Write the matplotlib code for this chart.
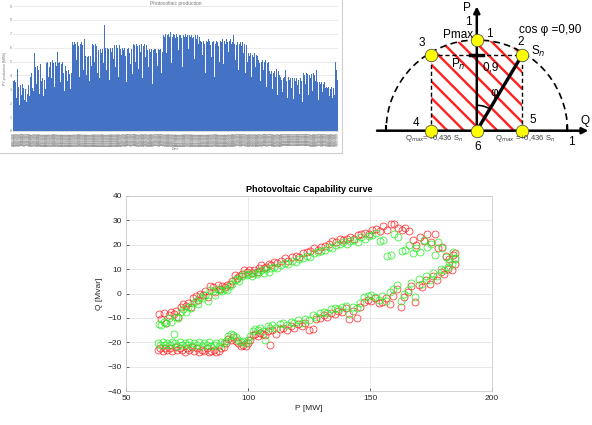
"""
Composite figure: daily PV production (top left), capability diagram (top right)
and the measured P-Q capability scatter (bottom).
"""

import datetime

import numpy as np
import matplotlib
matplotlib.use("Agg")
import matplotlib.pyplot as plt
from matplotlib.patches import Arc, PathPatch
from matplotlib.path import Path
from matplotlib.lines import Line2D

plt.rcParams["font.family"] = ["Liberation Sans", "DejaVu Sans"]
plt.rcParams["hatch.linewidth"] = 1.7

# ---- daily production (one bar per day of the year) ----
PV_DAILY = [
    3.6, 3.7, 3.5, 2.4, 3.8, 4.5, 3.2, 1.9, 3.3, 2.6, 3.4, 3.1, 2.2, 2.8, 3.0, 2.1, 2.7, 3.3, 2.5, 3.9,
    4.2, 3.1, 4.0, 2.9, 5.6, 4.6, 3.4, 4.7, 4.4, 2.7, 4.8, 4.5, 3.6, 3.8, 2.5, 3.7, 3.0, 4.9, 5.0, 3.9,
    4.6, 6.0, 5.0, 3.8, 5.1, 4.9, 3.2, 5.0, 4.7, 5.7, 4.1, 4.9, 5.0, 3.5, 4.8, 5.0, 4.2, 2.9, 4.7, 4.4,
    4.3, 3.6, 4.4, 4.1, 3.0, 4.2, 6.4, 6.2, 4.8, 6.4, 6.3, 5.1, 6.4, 6.1, 3.9, 6.3, 6.4, 5.6, 6.2, 4.4,
    6.6, 5.4, 4.0, 5.3, 5.4, 3.6, 5.2, 5.4, 4.7, 6.3, 6.2, 5.0, 6.3, 6.1, 4.2, 5.9, 5.8, 3.8, 5.9, 5.6,
    5.9, 4.9, 7.6, 6.0, 5.8, 4.4, 6.0, 5.9, 3.7, 6.0, 5.7, 6.0, 5.2, 6.2, 6.1, 4.6, 6.2, 6.0, 3.9, 6.2,
    5.9, 5.5, 6.0, 4.3, 5.8, 6.0, 5.4, 3.5, 5.9, 6.0, 5.6, 4.8, 6.0, 5.9, 4.1, 6.3, 6.2, 5.0, 6.3, 6.1,
    4.5, 6.3, 6.2, 5.7, 6.3, 3.8, 6.1, 6.3, 5.3, 6.2, 5.9, 5.8, 4.6, 5.9, 5.7, 5.9, 3.4, 5.8, 5.9, 5.2,
    5.9, 5.6, 4.7, 5.9, 5.8, 5.9, 4.2, 5.7, 7.0, 6.9, 6.8, 7.0, 5.6, 6.9, 7.0, 6.8, 7.1, 6.9, 4.9, 6.8,
    7.0, 6.9, 6.7, 7.0, 6.8, 5.8, 6.9, 7.0, 6.9, 6.7, 4.6, 6.9, 6.8, 7.0, 6.8, 6.9, 6.7, 5.9, 6.9, 6.8,
    6.9, 6.7, 6.8, 5.2, 6.9, 6.8, 6.6, 6.9, 6.3, 6.8, 6.5, 6.4, 5.5, 6.5, 6.6, 6.3, 4.2, 6.5, 6.4, 6.6,
    6.5, 6.2, 5.3, 6.5, 6.4, 6.5, 3.9, 6.3, 6.5, 6.4, 6.1, 5.0, 6.6, 6.5, 6.4, 6.6, 4.8, 6.5, 6.3, 6.6,
    6.4, 6.6, 5.7, 6.5, 6.6, 6.3, 6.4, 6.9, 6.3, 5.1, 6.4, 6.2, 6.4, 4.4, 6.3, 6.4, 6.1, 6.4, 5.6, 6.3,
    6.4, 4.2, 6.2, 5.0, 5.6, 5.4, 5.6, 3.9, 5.5, 5.6, 5.3, 5.6, 4.6, 5.5, 5.4, 5.1, 4.9, 3.6, 5.1, 5.0,
    5.1, 4.4, 5.0, 5.1, 3.2, 4.9, 5.0, 4.7, 4.3, 4.1, 4.3, 3.0, 4.2, 4.3, 3.9, 4.5, 4.1, 2.6, 4.3, 4.0,
    3.9, 3.7, 2.8, 3.8, 3.9, 3.5, 4.4, 3.6, 2.4, 3.9, 3.7, 3.8, 3.1, 3.8, 3.7, 2.3, 3.8, 3.6, 3.8, 3.3,
    3.7, 2.7, 3.8, 3.5, 3.6, 2.1, 4.2, 4.0, 3.4, 4.2, 4.1, 2.6, 4.0, 4.2, 3.8, 4.1, 2.9, 4.2, 4.0, 3.6,
    4.4, 3.5, 3.3, 2.2, 3.5, 3.4, 3.5, 2.8, 3.4, 3.5, 3.1, 2.0, 3.2, 3.1, 3.2, 2.5, 3.0, 3.2, 2.4, 3.1,
    3.2, 2.6, 5.0, 4.4, 3.7,
]
PV_YTICKS = [0, 1, 2, 3, 4, 5, 6, 7, 8, 9]
START_DAY = datetime.date(2019, 1, 1)

# ---- capability scatter: upper branch ----
P_UP = [
    63.5, 64.5, 65.5, 66.5, 67.5, 68.5, 69.5, 70.5, 71.5, 72.5,
    73.5, 74.5, 75.5, 76.5, 77.5, 78.5, 79.5, 80.5, 81.5, 82.5,
    83.5, 84.5, 85.5, 86.5, 87.5, 88.5, 89.5, 90.5, 91.5, 92.5,
    93.5, 94.5, 95.5, 96.5, 97.5, 98.5, 99.5, 100.5, 101.5, 102.5,
    103.5, 104.5, 105.5, 106.5, 107.5, 108.5, 109.5, 110.5, 112.0, 113.5,
    115.0, 116.5, 118.0, 119.5, 121.0, 122.5, 124.0, 125.5, 127.0, 128.5,
    130.0, 131.5, 133.0, 134.5, 136.0, 137.5, 139.0, 140.5, 142.0, 143.5,
    145.0, 146.5, 148.0, 149.5, 151.0, 152.5, 154.0, 155.5, 157.0, 158.5,
    160.0, 161.5, 163.0, 164.5, 166.0, 167.5, 169.0, 170.5, 172.0, 173.5,
    175.0, 176.5, 178.0, 179.5, 181.0, 182.5, 184.0, 185.0,
]
Q_UP_RED = [
    -8.5, -10.5, -8.0, -12.0, -9.0, -7.5, -8.5, -7.0, -9.5, -5.5,
    -4.5, -5.0, -4.0, -5.5, -2.0, -1.0, -2.5, 0.0, -0.5, 1.0,
    -1.5, 3.0, 2.5, 0.5, 3.5, 2.0, 3.0, 2.5, 3.5, 4.0,
    5.0, 7.5, 6.5, 7.0, 8.0, 9.5, 9.0, 9.5, 8.5, 9.5,
    9.0, 10.5, 11.5, 10.5, 11.0, 12.0, 11.5, 13.0, 12.5, 13.5,
    14.5, 13.5, 15.0, 15.5, 15.0, 16.5, 17.0, 17.5, 18.5, 18.0,
    19.0, 19.5, 20.5, 21.5, 21.0, 22.5, 22.0, 22.5, 23.0, 22.5,
    24.0, 24.5, 25.0, 24.5, 26.0, 26.5, 25.5, 27.5, 26.0, 28.5,
    28.5, 27.0, 26.0, 27.0, 25.5, 22.0, 20.0, 23.0, 21.5, 24.5,
    21.0, 24.5, 18.5, 19.0, 15.5, 14.0, 16.0, 16.5,
]
Q_UP_GREEN = [
    -12.5, -13.0, -11.5, -12.0, -10.0, -11.5, -16.5, -9.5, -10.0, -7.5,
    -6.5, -7.5, -5.5, -6.0, -4.0, -3.0, -4.5, -1.5, -2.0, -0.5,
    -3.0, 1.5, 1.0, -0.5, 2.0, 1.5, 1.0, 2.0, 1.5, 3.0,
    4.0, 5.5, 6.0, 5.0, 7.0, 8.0, 7.5, 8.0, 7.0, 8.5,
    8.0, 9.0, 9.5, 8.5, 10.0, 9.0, 10.5, 11.0, 10.5, 11.5,
    12.5, 12.0, 13.5, 13.0, 14.0, 14.5, 15.5, 15.0, 16.5, 17.0,
    17.5, 18.0, 19.0, 18.5, 20.0, 20.5, 21.0, 20.5, 21.5, 22.0,
    21.0, 23.0, 22.5, 23.5, 24.0, 25.0, 21.5, 22.0, 15.5, 16.0,
    24.5, 23.0, 17.5, 18.0, 20.0, 16.5, 18.5, 17.0, 22.0, 19.0,
    20.5, 16.0, 21.0, 18.5, 15.0, 13.0, 17.0, 14.5,
]

# ---- capability scatter: lower branch ----
P_LO = [
    63.0, 64.0, 65.0, 66.0, 67.0, 68.0, 69.0, 70.0, 71.0, 72.0,
    73.0, 74.0, 75.0, 76.0, 77.0, 78.0, 79.0, 80.0, 81.0, 82.0,
    83.0, 84.0, 85.0, 86.0, 87.0, 88.0, 89.0, 90.0, 91.0, 92.0,
    93.0, 94.0, 95.0, 96.0, 97.0, 98.0, 99.0, 100.0, 101.0, 102.0,
    103.0, 104.0, 105.0, 106.0, 107.0, 108.0, 109.0, 110.0, 111.5, 113.0,
    114.5, 116.0, 117.5, 119.0, 120.5, 122.0, 123.5, 125.0, 126.5, 128.0,
    129.5, 131.0, 132.5, 134.0, 135.5, 137.0, 138.5, 140.0, 141.5, 143.0,
    144.5, 146.0, 147.5, 149.0, 150.5, 152.0, 153.5, 155.0, 156.5, 158.0,
    159.5, 161.0, 162.5, 164.0, 165.5, 167.0, 168.5, 170.0, 171.5, 173.0,
    174.5, 176.0, 177.5, 179.0, 180.5, 182.0, 183.5, 185.0,
]
Q_LO_RED = [
    -23.0, -22.5, -23.5, -22.5, -23.0, -22.5, -23.5, -22.0, -23.0, -22.5,
    -23.0, -24.0, -22.5, -23.0, -22.0, -23.5, -22.5, -24.0, -23.0, -23.5,
    -22.5, -24.0, -23.5, -23.0, -24.0, -23.5, -22.5, -22.0, -20.5, -18.5,
    -19.0, -18.0, -19.5, -20.5, -21.5, -21.0, -21.5, -20.5, -19.0, -17.0,
    -16.5, -17.5, -16.0, -16.5, -17.0, -15.5, -21.0, -15.0, -16.5, -14.5,
    -14.0, -15.0, -13.5, -14.0, -12.5, -13.5, -12.0, -15.0, -14.5, -10.5,
    -10.0, -9.0, -9.5, -8.0, -8.5, -7.0, -7.5, -6.0, -10.5, -7.0,
    -10.0, -5.5, -3.5, -2.5, -3.0, -2.0, -4.0, -3.5, -2.0, -4.5,
    -1.0, 2.0, -5.5, -1.5, 0.5, 3.0, -3.5, 3.5, 2.5, 5.5,
    4.0, 7.0, 5.5, 9.0, 8.0, 10.0, 9.5, 12.0,
]
Q_LO_GREEN = [
    -20.5, -21.0, -20.0, -21.0, -20.5, -21.0, -20.0, -20.5, -21.5, -20.0,
    -21.0, -20.5, -21.0, -20.0, -21.5, -20.5, -21.0, -20.0, -21.5, -20.5,
    -21.0, -20.0, -21.5, -21.0, -20.5, -21.5, -20.0, -20.5, -19.5, -17.5,
    -16.5, -17.0, -18.0, -19.0, -20.0, -19.5, -20.5, -19.0, -17.5, -15.5,
    -14.5, -15.0, -14.0, -15.5, -19.0, -13.5, -14.0, -13.0, -14.0, -12.5,
    -12.0, -13.0, -11.5, -12.0, -11.0, -12.0, -10.5, -11.0, -9.0, -9.5,
    -8.0, -7.5, -8.0, -6.5, -6.0, -6.5, -5.5, -5.0, -8.5, -5.5,
    -6.0, -4.0, -1.5, -1.0, -0.5, -1.5, -2.5, -1.0, -3.0, 0.5,
    2.0, 3.5, -3.0, 0.0, 1.5, 4.5, -1.5, 6.0, 4.0, 7.0,
    5.5, 8.5, 7.0, 10.0, 9.5, 11.0, 12.0, 14.0,
]

W, H = 592, 425
fig = plt.figure(figsize=(W / 100, H / 100), dpi=100)


def fig_rect(x0, y0, x1, y1):
    # pixel box (top-left origin) -> figure fraction rect
    return [x0 / W, 1 - y1 / H, (x1 - x0) / W, (y1 - y0) / H]


# ================= top left: daily production bars =================
axb = fig.add_axes(fig_rect(13, 6, 338, 131))
days = np.arange(len(PV_DAILY))
axb.bar(days, PV_DAILY, width=1.0, color="#4472C4", edgecolor="none", zorder=2)
axb.set_xlim(-0.5, len(PV_DAILY) - 0.5)
axb.set_ylim(0, 9)
axb.set_yticks(PV_YTICKS)
axb.set_yticklabels([str(v) for v in PV_YTICKS], fontsize=2.5, color="#777777")
# one date per bar, as in the spreadsheet screenshot (they blur into a grey band)
date_labels = [(START_DAY + datetime.timedelta(days=int(d))).strftime("%d/%m/%Y") for d in days]
axb.set_xticks(days)
axb.set_xticklabels(date_labels, rotation=90, fontsize=1.9, color="#8a8a8a")
axb.tick_params(length=0, pad=1)
axb.grid(axis="y", color="#e3e3e3", lw=0.5, zorder=0)
for s in ["top", "right", "left"]:
    axb.spines[s].set_visible(False)
axb.spines["bottom"].set_color("#cccccc")
axb.spines["bottom"].set_linewidth(0.5)
axb.set_title("Photovoltaic production", fontsize=3.5, color="#777777", pad=1)
axb.set_ylabel("PV production [MWh]", fontsize=2.5, color="#777777", labelpad=2)
axb.set_xlabel("Date", fontsize=2.5, color="#777777", labelpad=1)

# light frame of the screenshot
fig.add_artist(Line2D([342 / W, 342 / W], [1 - 153 / H, 1.0], color="#d0d0d0", lw=0.8))
fig.add_artist(Line2D([0, 342 / W], [1 - 153 / H, 1 - 153 / H], color="#d0d0d0", lw=0.8))

# ================= top right: capability diagram =================
axd = fig.add_axes(fig_rect(355, 0, 592, 160))
axd.set_xlim(355, 592)
axd.set_ylim(0, 160)
axd.axis("off")

OX, OY, R = 476.8, 160 - 130.7, 90.7


def pt(q, p):
    return OX + q * R, OY + p * R


def tx(x, y):
    return x, 160 - y


# hatched operating region: rectangle |Q| <= 0.5 cut by the circle
ang = np.radians(np.linspace(60, 120, 30))
verts = [pt(-0.5, 0), pt(0.5, 0)] + [pt(np.cos(a), np.sin(a)) for a in ang] + [pt(-0.5, 0)]
codes = [Path.MOVETO] + [Path.LINETO] * (len(verts) - 2) + [Path.CLOSEPOLY]
axd.add_patch(PathPatch(Path(verts, codes), facecolor="none", edgecolor="#ff2020",
                        hatch="\\\\", lw=0, zorder=1))

axd.add_patch(Arc((OX, OY), 2 * R, 2 * R, theta1=0, theta2=180, color="black",
                  lw=1.2, ls=(0, (4, 2.5)), zorder=2))

pn = 0.835
dash = dict(color="black", lw=1.0, ls=(0, (3, 2)), zorder=2)
axd.plot(*zip(pt(-0.5, 0), pt(-0.5, pn)), **dash)
axd.plot(*zip(pt(0.5, 0), pt(0.5, pn)), **dash)
axd.plot(*zip(pt(-0.5, pn), pt(0.5, pn)), **dash)

# axes with arrows
arrow = dict(arrowstyle="-|>", color="black", lw=1.8, mutation_scale=9, shrinkA=0, shrinkB=0)
axd.annotate("", xy=pt(0, 1.37), xytext=pt(0, 0), arrowprops=arrow, zorder=3)
axd.annotate("", xy=pt(1.23, 0), xytext=pt(-1.10, 0), arrowprops=arrow, zorder=3)
for q in (-1, 1):
    axd.plot(*zip(pt(q, 0), pt(q, 0.05)), color="black", lw=1.5, zorder=3)
axd.plot(*zip(pt(-0.07, pn), pt(0.07, pn)), color="black", lw=2.5, zorder=3)

# Sn vector and angle phi
axd.plot(*zip(pt(0, 0), pt(0.5, pn)), color="black", lw=2.4, zorder=3)
phi_deg = np.degrees(np.arctan2(pn, 0.5))
axd.add_patch(Arc((OX, OY), 0.56 * R, 0.56 * R, theta1=phi_deg, theta2=90,
                  color="black", lw=1.2, zorder=3))

# characteristic points
pts = [(0, 1.0), (0.5, pn), (-0.5, pn), (-0.5, 0), (0.5, 0), (0, 0)]
axd.plot([pt(q, p)[0] for q, p in pts], [pt(q, p)[1] for q, p in pts], "o",
         ms=9, mfc="#ffff00", mec="#555555", mew=0.6, zorder=4)

fs = 8.5
labels = [
    ("P", 467, 8), ("Q", 585, 121), ("1", 468, 22), ("Pmax", 458, 35), ("1", 489, 34),
    ("cos φ =0,90", 550, 30), ("2", 521, 42), ("S$_n$", 538, 51), ("3", 422, 43),
    ("P$_n$", 458, 64), ("0,9", 491, 67), ("φ", 494, 93), ("4", 416, 123),
    ("5", 533, 120), ("6", 478, 147), ("1", 571, 142),
]
for s, x, y in labels:
    axd.text(*tx(x, y), s, fontsize=fs, ha="center", va="center", zorder=5)
axd.text(*tx(434, 139), "Q$_{max}$= -0,436 S$_n$", fontsize=5.5, color="#404040",
         ha="center", va="center", zorder=5)
axd.text(*tx(525, 139), "Q$_{max}$ =+0,436 S$_n$", fontsize=5.5, color="#404040",
         ha="center", va="center", zorder=5)

# ================= bottom: capability scatter =================
ax = fig.add_axes(fig_rect(126, 196, 492, 391))
circ = dict(ls="none", marker="o", mfc="none", ms=5.0, mew=0.6, alpha=0.85)
ax.plot(P_UP, Q_UP_RED, mec="#ff2020", **circ)
ax.plot(P_LO, Q_LO_RED, mec="#ff2020", **circ)
ax.plot(P_UP, Q_UP_GREEN, mec="#22ee22", **circ)
ax.plot(P_LO, Q_LO_GREEN, mec="#22ee22", **circ)

ax.set_xlim(50, 200)
ax.set_ylim(-40, 40)
ax.set_xticks([50, 100, 150, 200])
ax.set_yticks(np.arange(-40, 41, 10))
ax.grid(True, color="#e4e4e4", lw=0.6)
ax.set_axisbelow(True)
for s in ax.spines.values():
    s.set_color("#cccccc")
    s.set_linewidth(0.6)
ax.tick_params(direction="in", length=2.5, width=0.6, color="#444444",
               labelsize=6, labelcolor="#262626", pad=3)
ax.set_title("Photovoltaic Capability curve", fontsize=6.5, fontweight="bold", pad=3)
ax.set_xlabel("P [MW]", fontsize=6, color="#262626", labelpad=2)
ax.set_ylabel("Q [Mvar]", fontsize=6, color="#262626", labelpad=3)

fig.savefig("out.png", dpi=100)
